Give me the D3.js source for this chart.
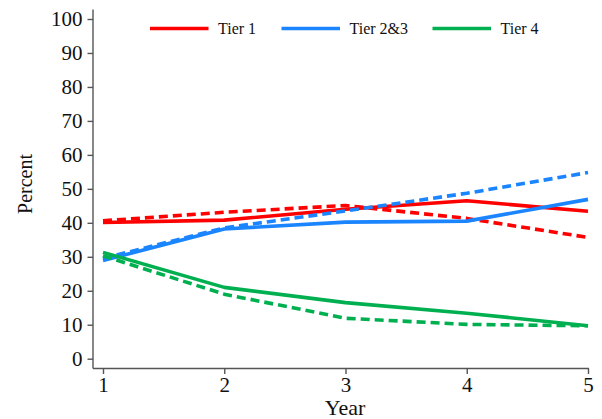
<!DOCTYPE html>
<html>
<head>
<meta charset="utf-8">
<script src="https://cdn.jsdelivr.net/npm/d3@7"></script>
<style>
  html, body { margin: 0; padding: 0; background: #fff; }
  svg { display: block; }
  text { font-family: "Liberation Serif", "DejaVu Serif", serif; fill: #111; }
</style>
</head>
<body>
<svg id="chart" width="602" height="419"></svg>
<script>
const years = [1, 2, 3, 4, 5];
const yTicks = [0, 10, 20, 30, 40, 50, 60, 70, 80, 90, 100];
const seriesNames = ["Tier 1", "Tier 2&3", "Tier 4"];
const seriesColors = ["#ff0000", "#1a85ff", "#00b050"];
const tier1Solid = [40.1, 40.8, 44.0, 46.5, 43.4];
const tier1Dashed = [40.6, 43.1, 45.1, 41.3, 35.7];
const tier23Solid = [28.9, 38.2, 40.2, 40.5, 46.9];
const tier23Dashed = [29.5, 38.5, 43.5, 48.7, 54.8];
const tier4Solid = [31.3, 21.0, 16.5, 13.4, 9.7];
const tier4Dashed = [30.3, 19.0, 11.9, 10.1, 9.7];

const lines = [
  { values: tier1Solid, color: 0, dashed: false },
  { values: tier1Dashed, color: 0, dashed: true },
  { values: tier23Solid, color: 1, dashed: false },
  { values: tier23Dashed, color: 1, dashed: true },
  { values: tier4Solid, color: 2, dashed: false },
  { values: tier4Dashed, color: 2, dashed: true }
];

const svg = d3.select("#chart");
const x = d3.scaleLinear().domain([1, 5]).range([103, 588]);
const y = d3.scaleLinear().domain([0, 100]).range([358.7, 19]);
const axisColor = "#555";

// axis lines
const axisLeftX = 93, axisBottomY = 368.5;
svg.append("line").attr("x1", axisLeftX).attr("x2", axisLeftX)
  .attr("y1", 9.5).attr("y2", axisBottomY)
  .attr("stroke", axisColor).attr("stroke-width", 1.4);
svg.append("line").attr("x1", axisLeftX).attr("x2", x(5) + 1)
  .attr("y1", axisBottomY).attr("y2", axisBottomY)
  .attr("stroke", axisColor).attr("stroke-width", 1.4);

// y axis
const gy = svg.append("g").attr("transform", `translate(${axisLeftX},0)`)
  .call(d3.axisLeft(y).tickValues(yTicks).tickSize(5.5).tickPadding(5).tickFormat(d3.format("d")));
gy.select(".domain").remove();
gy.selectAll(".tick line").attr("stroke", axisColor).attr("stroke-width", 1.4);
gy.selectAll(".tick text").attr("font-size", 21).attr("fill", "#111")
  .style("font-family", '"Liberation Serif", serif');

// x axis
const gx = svg.append("g").attr("transform", `translate(0,${axisBottomY})`)
  .call(d3.axisBottom(x).tickValues(years).tickSize(5.5).tickPadding(3).tickFormat(d3.format("d")));
gx.select(".domain").remove();
gx.selectAll(".tick line").attr("stroke", axisColor).attr("stroke-width", 1.4);
gx.selectAll(".tick text").attr("font-size", 21).attr("fill", "#111")
  .style("font-family", '"Liberation Serif", serif');

// axis titles
svg.append("text").attr("x", 345).attr("y", 415).attr("text-anchor", "middle")
  .attr("font-size", 22).text("Year");
svg.append("text").attr("transform", "translate(32,184) rotate(-90)")
  .attr("text-anchor", "middle").attr("font-size", 20).text("Percent");

// data lines
const lineGen = d3.line().x((d, i) => x(years[i])).y(d => y(d));
lines.forEach(s => {
  svg.append("path").datum(s.values)
    .attr("d", lineGen)
    .attr("fill", "none")
    .attr("stroke", seriesColors[s.color])
    .attr("stroke-width", 3.6)
    .attr("stroke-linejoin", "round")
    .attr("stroke-dasharray", s.dashed ? "9,5" : null);
});

// legend
const legendX = [150, 281.5, 432.5];
const legendY = 28.5;
seriesNames.forEach((name, i) => {
  svg.append("line").attr("x1", legendX[i]).attr("x2", legendX[i] + 58.5)
    .attr("y1", legendY).attr("y2", legendY)
    .attr("stroke", seriesColors[i]).attr("stroke-width", 3.4);
  svg.append("text").attr("x", legendX[i] + 68).attr("y", legendY + 5.5)
    .attr("font-size", 16).text(name);
});
</script>
</body>
</html>
